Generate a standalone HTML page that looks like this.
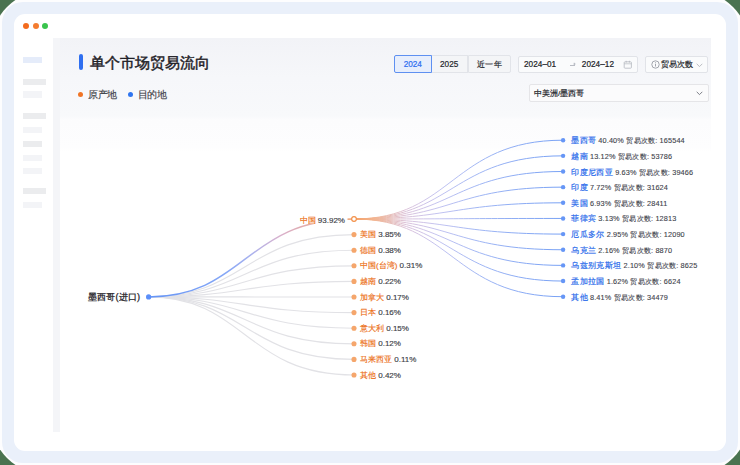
<!DOCTYPE html>
<html><head><meta charset="utf-8">
<style>
*{box-sizing:border-box;margin:0;padding:0}
html,body{width:740px;height:465px;overflow:hidden;background:#4a7350;font-family:"Liberation Sans",sans-serif}
.frame{position:absolute;left:-10px;top:-10px;width:760px;height:485px;border-radius:58px;background:#fdfdfe}
.band{position:absolute;left:2px;top:2px;right:2px;bottom:2px;border-radius:21px;background:#eaf0fa}
.card{position:absolute;left:13.5px;top:13.5px;width:712.7px;height:437.5px;border-radius:11px;background:#fff}
.dot{position:absolute;width:6px;height:6px;border-radius:50%;top:22.5px}
.sb{position:absolute;left:23px;height:6.3px}
.panel{position:absolute;left:53.4px;top:38px;width:657.6px;height:394px;background:linear-gradient(#f2f3f7 0,#f6f7fa 40px,#f8f9fb 78px,#fcfcfd 82px,#fdfdfe 110px,#fff 114px)}
.strip{position:absolute;left:53.4px;top:38px;width:6.9px;height:394px;background:#f4f5f8}
.tbar{position:absolute;left:79px;top:54.3px;width:3.6px;height:15.4px;border-radius:2px;background:#2f6ff0}
.title{position:absolute;left:89.5px;top:52.5px;font-size:15px;line-height:19px;font-weight:400;color:#1f2127;-webkit-text-stroke:0.45px #1f2127;letter-spacing:0px}
.leg{position:absolute;top:89.2px;font-size:9.5px;line-height:11px;color:#3f4249;-webkit-text-stroke:0.15px #3f4249}
.ldot{position:absolute;width:5px;height:5px;border-radius:50%;top:92.1px}
.btn{position:absolute;top:55.3px;height:18.1px;font-size:8.2px;line-height:17.6px;text-align:center;color:#25272d;-webkit-text-stroke:0.2px currentColor;background:#f4f5f7;border:1px solid #e2e4e9}
.btn.act{background:#e7eefc;border-color:#5e90f1;color:#2c6cf0;z-index:2}
.box{position:absolute;background:#fafbfc;border:1px solid #e1e3e8;border-radius:2px;font-size:8.2px;color:#24262b}
.txt{position:absolute;white-space:nowrap;font-size:8.5px;line-height:12px;color:#222429;-webkit-text-stroke:0.2px currentColor}
.c{display:inline-block;width:1em;font-style:normal;text-align:center;letter-spacing:0}
.lb{position:absolute;white-space:nowrap;line-height:12px;font-size:8px;color:#3c3e46;-webkit-text-stroke:0.15px currentColor}
.lb .o{color:#ec7018;font-weight:500;font-size:8px}
.lb.root{font-size:9.2px;letter-spacing:0;color:#1e2026;font-weight:500;-webkit-text-stroke:0.25px #1e2026}
.l1{background:transparent}
.l2{font-size:7.3px;letter-spacing:0.14px;color:#43454d;-webkit-text-stroke:0.12px #43454d}
.l2 .b{color:#2d6deb;font-size:8.4px;font-weight:500;letter-spacing:0;-webkit-text-stroke:0.2px #2d6deb}
</style></head><body>
<div class="frame"></div>
<div class="band"></div>
<div class="card"></div>
<div class="dot" style="left:23.4px;background:#f36b1e"></div>
<div class="dot" style="left:32.8px;background:#f47c30"></div>
<div class="dot" style="left:41.9px;background:#39c44d"></div>

<div class="sb" style="top:56.5px;width:19px;background:#e5ecfa"></div>
<div class="sb" style="top:79px;width:23px;background:#ebecee"></div>
<div class="sb" style="top:91.3px;width:19px;background:#f3f4f7"></div>
<div class="sb" style="top:113.2px;width:23px;background:#ebecee"></div>
<div class="sb" style="top:126.6px;width:19px;background:#f3f4f7"></div>
<div class="sb" style="top:140.8px;width:19px;background:#ebecee"></div>
<div class="sb" style="top:154.5px;width:19px;background:#f3f4f7"></div>
<div class="sb" style="top:168px;width:19px;background:#f3f4f7"></div>
<div class="sb" style="top:187.8px;width:23px;background:#ebecee"></div>
<div class="sb" style="top:201.5px;width:19px;background:#f3f4f7"></div>

<div class="panel"></div>
<div class="strip"></div>
<div class="tbar"></div>
<div class="title"><i class="c">单</i><i class="c">个</i><i class="c">市</i><i class="c">场</i><i class="c">贸</i><i class="c">易</i><i class="c">流</i><i class="c">向</i></div>
<div class="ldot" style="left:77.7px;background:#f07425"></div>
<div class="leg" style="left:88.2px"><i class="c">原</i><i class="c">产</i><i class="c">地</i></div>
<div class="ldot" style="left:127.8px;background:#2f75f0"></div>
<div class="leg" style="left:137.9px"><i class="c">目</i><i class="c">的</i><i class="c">地</i></div>

<div class="btn act" style="left:393.5px;width:38.5px;border-radius:2px 0 0 2px">2024</div>
<div class="btn" style="left:431px;width:37.3px;border-left:none">2025</div>
<div class="btn" style="left:467.8px;width:43.1px;border-radius:0 2px 2px 0"><i class="c">近</i><i class="c">一</i><i class="c">年</i></div>

<div class="box" style="left:517.6px;top:55.6px;width:120px;height:17.8px"></div>
<div class="txt" style="left:524px;top:59.1px;letter-spacing:0.05px;font-size:8.2px">2024–01</div>
<div style="position:absolute;left:569.5px;top:64.6px;width:5.5px;height:0.8px;background:#b9bcc4"></div>
<div style="position:absolute;left:573.2px;top:63.2px;width:2.2px;height:2.2px;border-top:0.8px solid #b9bcc4;border-right:0.8px solid #b9bcc4;transform:rotate(45deg)"></div>
<div class="txt" style="left:581.8px;top:59.1px;letter-spacing:0.05px;font-size:8.2px">2024–12</div>
<svg style="position:absolute;left:623px;top:60px" width="10" height="10" viewBox="0 0 10 10"><rect x="1.2" y="1.8" width="7.2" height="6.4" rx="0.8" fill="none" stroke="#b4b7bf" stroke-width="0.8"></rect><line x1="1.2" y1="3.8" x2="8.4" y2="3.8" stroke="#b4b7bf" stroke-width="0.7"></line><line x1="3.2" y1="0.8" x2="3.2" y2="2.6" stroke="#b4b7bf" stroke-width="0.8"></line><line x1="6.4" y1="0.8" x2="6.4" y2="2.6" stroke="#b4b7bf" stroke-width="0.8"></line></svg>
<div class="box" style="left:645.3px;top:55.6px;width:63.2px;height:17.6px"></div>
<svg style="position:absolute;left:650.7px;top:60.2px" width="9" height="9" viewBox="0 0 9 9"><circle cx="4.5" cy="4.5" r="3.7" fill="none" stroke="#8d9099" stroke-width="0.8"></circle><line x1="4.5" y1="3.9" x2="4.5" y2="6.5" stroke="#8d9099" stroke-width="0.8"></line><circle cx="4.5" cy="2.7" r="0.5" fill="#8d9099"></circle></svg>
<div class="txt" style="left:661.3px;top:59.2px;font-size:7.9px"><i class="c">贸</i><i class="c">易</i><i class="c">次</i><i class="c">数</i></div>
<svg style="position:absolute;left:695.5px;top:62.5px" width="7" height="4.5" viewBox="0 0 7 4.5"><path d="M0.7 0.8L3.5 3.6L6.3 0.8" fill="none" stroke="#a9acb4" stroke-width="0.8"></path></svg>
<div class="box" style="left:529.1px;top:84.3px;width:179.6px;height:17.6px;background:#fbfbfc;border-color:#e5e5e8;border-top-width:1.4px"></div>
<div class="txt" style="left:534.1px;top:88.4px;font-size:8px;color:#22242a"><i class="c">中</i><i class="c">美</i><i class="c">洲</i>/<i class="c">墨</i><i class="c">西</i><i class="c">哥</i></div>
<svg style="position:absolute;left:695.5px;top:91px" width="7" height="4.5" viewBox="0 0 7 4.5"><path d="M0.7 0.8L3.5 3.6L6.3 0.8" fill="none" stroke="#6f727a" stroke-width="0.9"></path></svg>

<svg width="740" height="465" viewBox="0 0 740 465" style="position:absolute;left:0;top:0">
<defs>
<linearGradient id="g1" gradientUnits="userSpaceOnUse" x1="148.6" y1="0" x2="354.0" y2="0">
<stop offset="0" stop-color="#6494f6"></stop><stop offset="0.38" stop-color="#86a7f6"></stop><stop offset="0.5" stop-color="#aab2ee"></stop><stop offset="0.64" stop-color="#d9b1cd"></stop><stop offset="1" stop-color="#f1a06c"></stop></linearGradient>
<linearGradient id="g2" gradientUnits="userSpaceOnUse" x1="354.0" y1="0" x2="563.1" y2="0">
<stop offset="0" stop-color="#f4a066"></stop><stop offset="0.1" stop-color="#f2b592"></stop><stop offset="0.25" stop-color="#dcc3db"></stop><stop offset="0.4" stop-color="#c3c3f0"></stop><stop offset="0.6" stop-color="#a0b6f4"></stop><stop offset="1" stop-color="#76a0f4"></stop></linearGradient>
</defs>
<path d="M148.60 296.90C245.14 296.90 245.14 234.60 354.00 234.60" fill="none" stroke="#e2e2e6" stroke-width="1.15"></path>
<path d="M148.60 296.90C245.14 296.90 245.14 250.20 354.00 250.20" fill="none" stroke="#e2e2e6" stroke-width="1.15"></path>
<path d="M148.60 296.90C245.14 296.90 245.14 265.80 354.00 265.80" fill="none" stroke="#e2e2e6" stroke-width="1.15"></path>
<path d="M148.60 296.90C245.14 296.90 245.14 281.40 354.00 281.40" fill="none" stroke="#e2e2e6" stroke-width="1.15"></path>
<path d="M148.60 296.90C245.14 296.90 245.14 297.00 354.00 297.00" fill="none" stroke="#e2e2e6" stroke-width="1.15"></path>
<path d="M148.60 296.90C245.14 296.90 245.14 312.60 354.00 312.60" fill="none" stroke="#e2e2e6" stroke-width="1.15"></path>
<path d="M148.60 296.90C245.14 296.90 245.14 328.20 354.00 328.20" fill="none" stroke="#e2e2e6" stroke-width="1.15"></path>
<path d="M148.60 296.90C245.14 296.90 245.14 343.80 354.00 343.80" fill="none" stroke="#e2e2e6" stroke-width="1.15"></path>
<path d="M148.60 296.90C245.14 296.90 245.14 359.40 354.00 359.40" fill="none" stroke="#e2e2e6" stroke-width="1.15"></path>
<path d="M148.60 296.90C245.14 296.90 245.14 375.00 354.00 375.00" fill="none" stroke="#e2e2e6" stroke-width="1.15"></path>
<path d="M354.00 219.00C452.28 219.00 452.28 140.20 563.10 140.20" fill="none" stroke="url(#g2)" stroke-width="1.0"></path>
<path d="M354.00 219.00C452.28 219.00 452.28 155.85 563.10 155.85" fill="none" stroke="url(#g2)" stroke-width="1.0"></path>
<path d="M354.00 219.00C452.28 219.00 452.28 171.50 563.10 171.50" fill="none" stroke="url(#g2)" stroke-width="1.0"></path>
<path d="M354.00 219.00C452.28 219.00 452.28 187.15 563.10 187.15" fill="none" stroke="url(#g2)" stroke-width="1.0"></path>
<path d="M354.00 219.00C452.28 219.00 452.28 202.80 563.10 202.80" fill="none" stroke="url(#g2)" stroke-width="1.0"></path>
<path d="M354.00 219.00C452.28 219.00 452.28 218.45 563.10 218.45" fill="none" stroke="url(#g2)" stroke-width="1.0"></path>
<path d="M354.00 219.00C452.28 219.00 452.28 234.10 563.10 234.10" fill="none" stroke="url(#g2)" stroke-width="1.0"></path>
<path d="M354.00 219.00C452.28 219.00 452.28 249.75 563.10 249.75" fill="none" stroke="url(#g2)" stroke-width="1.0"></path>
<path d="M354.00 219.00C452.28 219.00 452.28 265.40 563.10 265.40" fill="none" stroke="url(#g2)" stroke-width="1.0"></path>
<path d="M354.00 219.00C452.28 219.00 452.28 281.05 563.10 281.05" fill="none" stroke="url(#g2)" stroke-width="1.0"></path>
<path d="M354.00 219.00C452.28 219.00 452.28 296.70 563.10 296.70" fill="none" stroke="url(#g2)" stroke-width="1.0"></path>
<path d="M148.60 296.90C245.14 296.90 245.14 219.00 354.00 219.00" fill="none" stroke="url(#g1)" stroke-width="1.5"></path>
<rect x="297.5" y="213.5" width="50" height="10.5" fill="#fff"></rect>
<circle cx="148.6" cy="296.9" r="2.6" fill="#5b8ff9"></circle>
<circle cx="354.0" cy="219.0" r="2.35" fill="#fff" stroke="#f39048" stroke-width="1.15"></circle>
<circle cx="354.0" cy="234.60" r="2.55" fill="#f5a66c"></circle>
<circle cx="354.0" cy="250.20" r="2.55" fill="#f5a66c"></circle>
<circle cx="354.0" cy="265.80" r="2.55" fill="#f5a66c"></circle>
<circle cx="354.0" cy="281.40" r="2.55" fill="#f5a66c"></circle>
<circle cx="354.0" cy="297.00" r="2.55" fill="#f5a66c"></circle>
<circle cx="354.0" cy="312.60" r="2.55" fill="#f5a66c"></circle>
<circle cx="354.0" cy="328.20" r="2.55" fill="#f5a66c"></circle>
<circle cx="354.0" cy="343.80" r="2.55" fill="#f5a66c"></circle>
<circle cx="354.0" cy="359.40" r="2.55" fill="#f5a66c"></circle>
<circle cx="354.0" cy="375.00" r="2.55" fill="#f5a66c"></circle>
<circle cx="563.1" cy="140.20" r="2.2" fill="#6696f6"></circle>
<circle cx="563.1" cy="155.85" r="2.2" fill="#6696f6"></circle>
<circle cx="563.1" cy="171.50" r="2.2" fill="#6696f6"></circle>
<circle cx="563.1" cy="187.15" r="2.2" fill="#6696f6"></circle>
<circle cx="563.1" cy="202.80" r="2.2" fill="#6696f6"></circle>
<circle cx="563.1" cy="218.45" r="2.2" fill="#6696f6"></circle>
<circle cx="563.1" cy="234.10" r="2.2" fill="#6696f6"></circle>
<circle cx="563.1" cy="249.75" r="2.2" fill="#6696f6"></circle>
<circle cx="563.1" cy="265.40" r="2.2" fill="#6696f6"></circle>
<circle cx="563.1" cy="281.05" r="2.2" fill="#6696f6"></circle>
<circle cx="563.1" cy="296.70" r="2.2" fill="#6696f6"></circle>
</svg>
<div class="lb root" style="right:600.0px;top:290.6px"><i class="c">墨</i><i class="c">西</i><i class="c">哥</i>(<i class="c">进</i><i class="c">口</i>)</div>
<div class="lb l1" style="top: 214.6px; left: 299.63px;"><span class="o" style="display:inline-block;width:18.23px"><i class="c">中</i><i class="c">国</i></span><span class="n" style="display:inline-block;width:27.14px">93.92%</span></div>
<div class="lb l1" style="left:360px;top:229.1px"><span class="o" style="display:inline-block;width:18.23px"><i class="c">美</i><i class="c">国</i></span><span class="n" style="display:inline-block;width:22.69px">3.85%</span></div>
<div class="lb l1" style="left:360px;top:244.7px"><span class="o" style="display:inline-block;width:18.23px"><i class="c">德</i><i class="c">国</i></span><span class="n" style="display:inline-block;width:22.69px">0.38%</span></div>
<div class="lb l1" style="left:360px;top:260.3px"><span class="o" style="display:inline-block;width:39.58px"><i class="c">中</i><i class="c">国</i>(<i class="c">台</i><i class="c">湾</i>)</span><span class="n" style="display:inline-block;width:22.69px">0.31%</span></div>
<div class="lb l1" style="left:360px;top:275.9px"><span class="o" style="display:inline-block;width:18.23px"><i class="c">越</i><i class="c">南</i></span><span class="n" style="display:inline-block;width:22.69px">0.22%</span></div>
<div class="lb l1" style="left:360px;top:291.5px"><span class="o" style="display:inline-block;width:26.23px"><i class="c">加</i><i class="c">拿</i><i class="c">大</i></span><span class="n" style="display:inline-block;width:22.69px">0.17%</span></div>
<div class="lb l1" style="left:360px;top:307.1px"><span class="o" style="display:inline-block;width:18.23px"><i class="c">日</i><i class="c">本</i></span><span class="n" style="display:inline-block;width:22.69px">0.16%</span></div>
<div class="lb l1" style="left:360px;top:322.7px"><span class="o" style="display:inline-block;width:26.23px"><i class="c">意</i><i class="c">大</i><i class="c">利</i></span><span class="n" style="display:inline-block;width:22.69px">0.15%</span></div>
<div class="lb l1" style="left:360px;top:338.3px"><span class="o" style="display:inline-block;width:18.23px"><i class="c">韩</i><i class="c">国</i></span><span class="n" style="display:inline-block;width:22.69px">0.12%</span></div>
<div class="lb l1" style="left:360px;top:353.9px"><span class="o" style="display:inline-block;width:34.23px"><i class="c">马</i><i class="c">来</i><i class="c">西</i><i class="c">亚</i></span><span class="n" style="display:inline-block;width:22.09px">0.11%</span></div>
<div class="lb l1" style="left:360px;top:369.5px"><span class="o" style="display:inline-block;width:18.23px"><i class="c">其</i><i class="c">他</i></span><span class="n" style="display:inline-block;width:22.69px">0.42%</span></div>
<div class="lb l2" style="left:571px;top:134.2px"><span class="b" style="display:inline-block;width:27.34px"><i class="c">墨</i><i class="c">西</i><i class="c">哥</i></span><span class="n" style="display:inline-block;width:27.77px">40.40%</span><span class="k" style="display:inline-block;width:33.53px"><i class="c">贸</i><i class="c">易</i><i class="c">次</i><i class="c">数</i>:</span><span class="n" style="display:inline-block;width:25.20px">165544</span></div>
<div class="lb l2" style="left:571px;top:149.8px"><span class="b" style="display:inline-block;width:18.95px"><i class="c">越</i><i class="c">南</i></span><span class="n" style="display:inline-block;width:27.77px">13.12%</span><span class="k" style="display:inline-block;width:33.53px"><i class="c">贸</i><i class="c">易</i><i class="c">次</i><i class="c">数</i>:</span><span class="n" style="display:inline-block;width:21.00px">53786</span></div>
<div class="lb l2" style="left:571px;top:165.5px"><span class="b" style="display:inline-block;width:44.13px"><i class="c">印</i><i class="c">度</i><i class="c">尼</i><i class="c">西</i><i class="c">亚</i></span><span class="n" style="display:inline-block;width:23.56px">9.63%</span><span class="k" style="display:inline-block;width:33.53px"><i class="c">贸</i><i class="c">易</i><i class="c">次</i><i class="c">数</i>:</span><span class="n" style="display:inline-block;width:21.00px">39466</span></div>
<div class="lb l2" style="left:571px;top:181.1px"><span class="b" style="display:inline-block;width:18.95px"><i class="c">印</i><i class="c">度</i></span><span class="n" style="display:inline-block;width:23.56px">7.72%</span><span class="k" style="display:inline-block;width:33.53px"><i class="c">贸</i><i class="c">易</i><i class="c">次</i><i class="c">数</i>:</span><span class="n" style="display:inline-block;width:21.00px">31624</span></div>
<div class="lb l2" style="left:571px;top:196.8px"><span class="b" style="display:inline-block;width:18.95px"><i class="c">美</i><i class="c">国</i></span><span class="n" style="display:inline-block;width:23.56px">6.93%</span><span class="k" style="display:inline-block;width:33.53px"><i class="c">贸</i><i class="c">易</i><i class="c">次</i><i class="c">数</i>:</span><span class="n" style="display:inline-block;width:20.45px">28411</span></div>
<div class="lb l2" style="left:571px;top:212.4px"><span class="b" style="display:inline-block;width:27.34px"><i class="c">菲</i><i class="c">律</i><i class="c">宾</i></span><span class="n" style="display:inline-block;width:23.56px">3.13%</span><span class="k" style="display:inline-block;width:33.53px"><i class="c">贸</i><i class="c">易</i><i class="c">次</i><i class="c">数</i>:</span><span class="n" style="display:inline-block;width:21.00px">12813</span></div>
<div class="lb l2" style="left:571px;top:228.1px"><span class="b" style="display:inline-block;width:35.73px"><i class="c">厄</i><i class="c">瓜</i><i class="c">多</i><i class="c">尔</i></span><span class="n" style="display:inline-block;width:23.56px">2.95%</span><span class="k" style="display:inline-block;width:33.53px"><i class="c">贸</i><i class="c">易</i><i class="c">次</i><i class="c">数</i>:</span><span class="n" style="display:inline-block;width:21.00px">12090</span></div>
<div class="lb l2" style="left:571px;top:243.8px"><span class="b" style="display:inline-block;width:27.34px"><i class="c">乌</i><i class="c">克</i><i class="c">兰</i></span><span class="n" style="display:inline-block;width:23.56px">2.16%</span><span class="k" style="display:inline-block;width:33.53px"><i class="c">贸</i><i class="c">易</i><i class="c">次</i><i class="c">数</i>:</span><span class="n" style="display:inline-block;width:16.80px">8870</span></div>
<div class="lb l2" style="left:571px;top:259.4px"><span class="b" style="display:inline-block;width:52.52px"><i class="c">乌</i><i class="c">兹</i><i class="c">别</i><i class="c">克</i><i class="c">斯</i><i class="c">坦</i></span><span class="n" style="display:inline-block;width:23.56px">2.10%</span><span class="k" style="display:inline-block;width:33.53px"><i class="c">贸</i><i class="c">易</i><i class="c">次</i><i class="c">数</i>:</span><span class="n" style="display:inline-block;width:16.80px">8625</span></div>
<div class="lb l2" style="left:571px;top:275.0px"><span class="b" style="display:inline-block;width:35.73px"><i class="c">孟</i><i class="c">加</i><i class="c">拉</i><i class="c">国</i></span><span class="n" style="display:inline-block;width:23.56px">1.62%</span><span class="k" style="display:inline-block;width:33.53px"><i class="c">贸</i><i class="c">易</i><i class="c">次</i><i class="c">数</i>:</span><span class="n" style="display:inline-block;width:16.80px">6624</span></div>
<div class="lb l2" style="left:571px;top:290.7px"><span class="b" style="display:inline-block;width:18.95px"><i class="c">其</i><i class="c">他</i></span><span class="n" style="display:inline-block;width:23.56px">8.41%</span><span class="k" style="display:inline-block;width:33.53px"><i class="c">贸</i><i class="c">易</i><i class="c">次</i><i class="c">数</i>:</span><span class="n" style="display:inline-block;width:21.00px">34479</span></div>

</body></html>
